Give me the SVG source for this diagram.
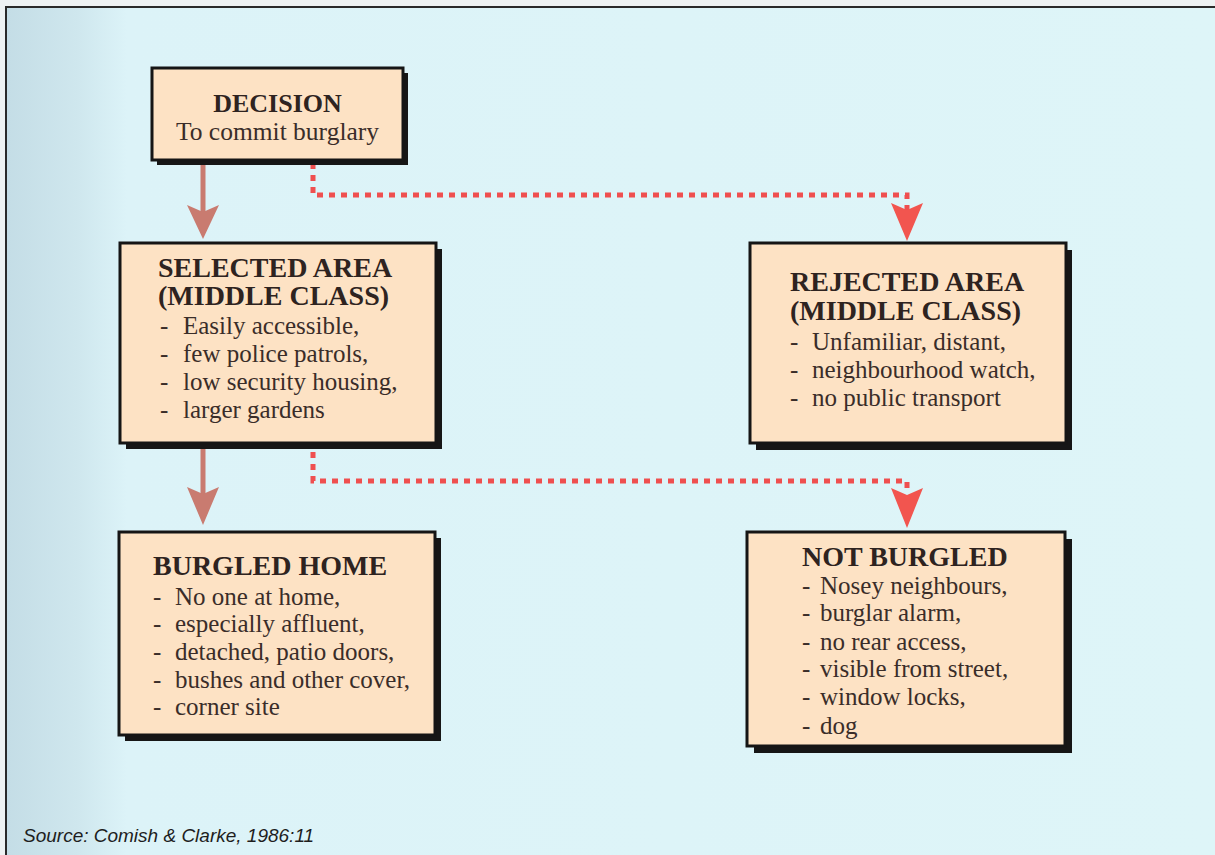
<svg xmlns="http://www.w3.org/2000/svg" width="1215" height="855" viewBox="0 0 1215 855">
  <defs>
    <linearGradient id="bgGrad" x1="0" y1="0" x2="1" y2="0">
      <stop offset="0" stop-color="#c4dde6"/>
      <stop offset="0.06" stop-color="#cfe7ee"/>
      <stop offset="0.1" stop-color="#dcf3f8"/>
      <stop offset="1" stop-color="#def5f8"/>
    </linearGradient>
    <style>
      .box { fill: #fde2c4; stroke: #151515; stroke-width: 3; }
      .shadow { fill: #161616; }
      .title { font-family: "Liberation Serif", "Times New Roman", serif; font-weight: bold; font-size: 28px; fill: #2e2320; }
      .item { font-family: "Liberation Serif", "Times New Roman", serif; font-size: 25px; fill: #3a2d29; }
      .solid { stroke: #c97b70; stroke-width: 5; fill: none; }
      .solidHead { fill: #c97b70; }
      .dotted { stroke: #ef4f4f; stroke-width: 5; fill: none; stroke-dasharray: 6 6; }
      .dotHead { fill: #f2554f; }
      .source { font-family: "Liberation Sans", Arial, sans-serif; font-style: italic; font-size: 19px; fill: #1e1e1e; }
    </style>
  </defs>

  <!-- page background and frame -->
  <rect x="0" y="0" width="1215" height="855" fill="#eef2f3"/>
  <rect x="6" y="7" width="1209" height="848" fill="url(#bgGrad)"/>
  <path d="M6,855 L6,7 L1215,7" fill="none" stroke="#2a2a2a" stroke-width="2"/>

  <!-- connectors -->
  <g id="connectors">
    <line class="solid" x1="203" y1="162" x2="203" y2="214"/>
    <polygon class="solidHead" points="187,205 203,212 219,205 203,239"/>
    <polyline class="dotted" points="313,163 313,195 907,195 907,210"/>
    <polygon class="dotHead" points="891,203 907,210 923,203 907,241"/>

    <line class="solid" x1="203" y1="449" x2="203" y2="494"/>
    <polygon class="solidHead" points="187,487 203,494 219,487 203,525"/>
    <polyline class="dotted" points="313,452 313,481 907,481 907,494"/>
    <polygon class="dotHead" points="891,488 907,495 923,488 907,528"/>
  </g>

  <!-- decision -->
  <g id="decision">
    <rect class="shadow" x="157" y="73" width="251" height="92"/>
    <rect class="box" x="152" y="68" width="251" height="92"/>
    <text class="title" x="277.5" y="112" text-anchor="middle" style="font-size:26px">DECISION</text>
    <text class="item" x="277.5" y="140" text-anchor="middle" style="font-size:25.5px">To commit burglary</text>
  </g>

  <!-- selected area -->
  <g id="selected-area">
    <rect class="shadow" x="126" y="249" width="316" height="200"/>
    <rect class="box" x="120" y="243" width="316" height="200"/>
    <text class="title" x="158" y="277">SELECTED AREA</text>
    <text class="title" x="158" y="305">(MIDDLE CLASS)</text>
    <text class="item"><tspan x="160" y="334">-</tspan><tspan x="183" y="334">Easily accessible,</tspan></text>
    <text class="item"><tspan x="160" y="362">-</tspan><tspan x="183" y="362">few police patrols,</tspan></text>
    <text class="item"><tspan x="160" y="390">-</tspan><tspan x="183" y="390">low security housing,</tspan></text>
    <text class="item"><tspan x="160" y="418">-</tspan><tspan x="183" y="418">larger gardens</tspan></text>
  </g>

  <!-- rejected area -->
  <g id="rejected-area">
    <rect class="shadow" x="756" y="250" width="316" height="200"/>
    <rect class="box" x="750" y="243" width="316" height="200"/>
    <text class="title" x="790" y="291">REJECTED AREA</text>
    <text class="title" x="790" y="320">(MIDDLE CLASS)</text>
    <text class="item"><tspan x="790" y="350">-</tspan><tspan x="812" y="350">Unfamiliar, distant,</tspan></text>
    <text class="item"><tspan x="790" y="378">-</tspan><tspan x="812" y="378">neighbourhood watch,</tspan></text>
    <text class="item"><tspan x="790" y="406">-</tspan><tspan x="812" y="406">no public transport</tspan></text>
  </g>

  <!-- burgled home -->
  <g id="burgled-home">
    <rect class="shadow" x="125" y="538" width="316" height="203"/>
    <rect class="box" x="119" y="532" width="316" height="203"/>
    <text class="title" x="153" y="575">BURGLED HOME</text>
    <text class="item"><tspan x="153" y="605">-</tspan><tspan x="175" y="605">No one at home,</tspan></text>
    <text class="item"><tspan x="153" y="632">-</tspan><tspan x="175" y="632">especially affluent,</tspan></text>
    <text class="item"><tspan x="153" y="660">-</tspan><tspan x="175" y="660">detached, patio doors,</tspan></text>
    <text class="item"><tspan x="153" y="688">-</tspan><tspan x="175" y="688">bushes and other cover,</tspan></text>
    <text class="item"><tspan x="153" y="715">-</tspan><tspan x="175" y="715">corner site</tspan></text>
  </g>

  <!-- not burgled -->
  <g id="not-burgled">
    <rect class="shadow" x="754" y="539" width="318" height="214"/>
    <rect class="box" x="747" y="532" width="318" height="214"/>
    <text class="title" x="802" y="566">NOT BURGLED</text>
    <text class="item"><tspan x="802" y="594">-</tspan><tspan x="820" y="594">Nosey neighbours,</tspan></text>
    <text class="item"><tspan x="802" y="621">-</tspan><tspan x="820" y="621">burglar alarm,</tspan></text>
    <text class="item"><tspan x="802" y="650">-</tspan><tspan x="820" y="650">no rear access,</tspan></text>
    <text class="item"><tspan x="802" y="677">-</tspan><tspan x="820" y="677">visible from street,</tspan></text>
    <text class="item"><tspan x="802" y="705">-</tspan><tspan x="820" y="705">window locks,</tspan></text>
    <text class="item"><tspan x="802" y="734">-</tspan><tspan x="820" y="734">dog</tspan></text>
  </g>

  <text class="source" x="23" y="842">Source: Comish &amp; Clarke, 1986:11</text>
</svg>
